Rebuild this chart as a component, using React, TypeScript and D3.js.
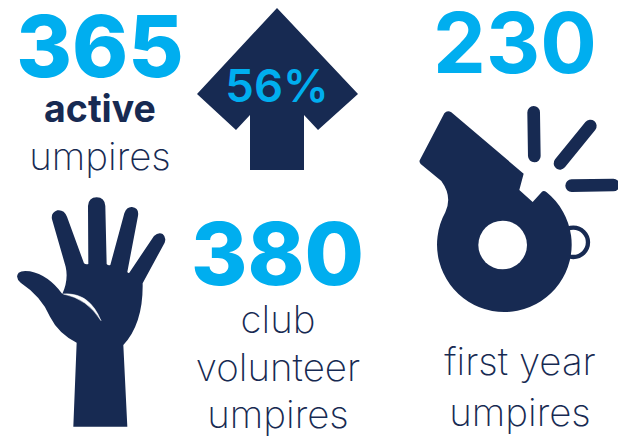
import React from 'react';
import * as d3 from 'd3';

const statValues = ['365', '56%', '380', '230'];
const activeLabels = ['active', 'umpires'];
const clubLabels = ['club', 'volunteer', 'umpires'];
const firstYearLabels = ['first year', 'umpires'];

const BLUE = '#00aeef';
const NAVY = '#172a52';
const FONT = 'Inter, "Noto Sans", sans-serif';

// icon outlines traced at 3x, so they get scaled down when drawn
const handOutline =
  'M220 710 L230 458 Q175 430 150 380 Q125 320 62 278 Q44 262 56 248 Q66 240 90 244 Q145 255 187 312 ' +
  'Q206 270 197 230 L156 88 Q152 68 172 61 Q192 58 201 80 L252 220 Q258 225 265 222 L264 48 Q266 22 290 22 ' +
  'Q314 22 316 48 L320 222 Q325 228 331 225 L373 70 Q380 50 396 51 Q418 54 414 78 L382 246 Q385 250 388 248 ' +
  'L462 138 Q475 126 488 132 Q500 142 494 158 L428 280 Q430 400 370 465 L382 710 Z';
const palmCrease = 'M190 312 Q268 306 303 392 Q262 326 190 312 Z';

const whistleBody =
  'M103 55 Q112 44 124 52 L341 236 L328 285 L368 321 L396 290 Q402 286 410 292 ' +
  'A202 202 0 1 1 106 352 Q128 305 94 258 L32 207 Q26 200 30 194 Z';
const whistleHole = { cx: 278, cy: 450, r: 73 };
const whistleRing = { cx: 490, cy: 442, r: 44 };
const whistleRays: [number, number, number, number][] = [
  [371, 52, 373, 183],
  [541, 93, 450, 205],
  [485, 272, 610, 270],
];

const arrowShape: [number, number][] = [
  [277, 8], [358, 94], [318, 130], [304, 115], [304, 170], [250, 170], [250, 115], [236, 130], [197, 94],
];

const App = () => {
  const arrow = d3.line()(arrowShape) + ' Z';

  const bigNumber = { fill: BLUE, fontWeight: 800, textAnchor: 'middle' as const };
  const lightLabel = { fill: NAVY, fontWeight: 250, fontSize: 38.5, textAnchor: 'middle' as const };

  return (
    <svg
      width={618}
      height={436}
      viewBox="0 0 618 436"
      style={{ position: 'absolute', top: 0, left: 0, fontFamily: FONT, background: '#fff' }}
    >
      {/* top left */}
      <text x={100} y={77} fontSize={85} {...bigNumber}>{statValues[0]}</text>
      <text x={100} y={122} fill={NAVY} fontWeight={700} fontSize={37.5} textAnchor="middle">{activeLabels[0]}</text>
      <text x={100} y={170} {...lightLabel}>{activeLabels[1]}</text>

      {/* arrow */}
      <path d={arrow} fill={NAVY} />
      <text x={277} y={102} fill={BLUE} fontWeight={600} fontSize={45.5} textAnchor="middle">{statValues[1]}</text>

      {/* hand */}
      <g transform="translate(0,190) scale(0.3333)">
        <path d={handOutline} fill={NAVY} />
        <path d={palmCrease} fill="#fff" stroke="#fff" strokeWidth={1.5} />
      </g>

      {/* club volunteers */}
      <text x={277.5} y={285} fontSize={86} {...bigNumber}>{statValues[2]}</text>
      {clubLabels.map((label, i) => (
        <text key={i} x={278} y={333 + i * 47.5} {...lightLabel}>{label}</text>
      ))}

      {/* whistle */}
      <text x={515} y={73} fontSize={84} fontWeight={700} fill={BLUE} textAnchor="middle">{statValues[3]}</text>
      <g transform="translate(410,95) scale(0.3333)">
        <circle {...whistleRing} fill="none" stroke={NAVY} strokeWidth={13} />
        <path d={whistleBody} fill={NAVY} />
        <circle {...whistleHole} fill="#fff" />
        {whistleRays.map(([x1, y1, x2, y2], i) => (
          <line key={i} x1={x1} y1={y1} x2={x2} y2={y2} stroke={NAVY} strokeWidth={38} strokeLinecap="round" />
        ))}
      </g>
      {firstYearLabels.map((label, i) => (
        <text key={i} x={520} y={375 + i * 51} {...lightLabel}>{label}</text>
      ))}
    </svg>
  );
};

export default App;
